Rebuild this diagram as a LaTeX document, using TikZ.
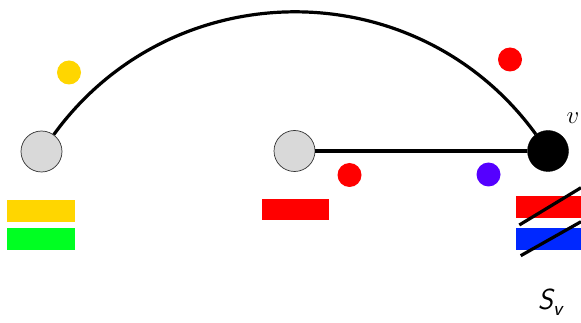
\documentclass[tikz,border=0pt]{standalone}
\usepackage{fontspec}
\begin{document}
\begin{tikzpicture}[x=1pt,y=-1pt,
  gnode/.style={circle,draw=black!80,line width=0.7pt,fill=black!15,minimum size=41pt,inner sep=0pt},
  bnode/.style={circle,draw=black,fill=black,minimum size=41pt,inner sep=0pt},
  dot/.style={circle,minimum size=24pt,inner sep=0pt},
  bar/.style={rectangle,minimum width=67.5pt,minimum height=21.5pt,inner sep=0pt},
  edge/.style={line width=3.2pt},
  slash/.style={line width=3.2pt}]
\useasboundingbox (0,0) rectangle (581,323);
\definecolor{cyel}{RGB}{255,214,0}
\definecolor{cgrn}{RGB}{0,255,34}
\definecolor{cred}{RGB}{255,0,0}
\definecolor{cblu}{RGB}{0,40,255}
\definecolor{cpur}{RGB}{85,0,255}
% vertices
\node[gnode] (a) at (41.5,151.5) {};
\node[gnode] (b) at (294.5,151) {};
\node[bnode] (c) at (548,151) {};
% edges
\draw[edge] (a) to[out=54,in=126,looseness=1.075] (c);
\draw[edge] (b) -- (c);
% dots
\node[dot,fill=cyel] (d1) at (69,72.5) {};
\node[dot,fill=cred] (d2) at (510,59.5) {};
\node[dot,fill=cred] (d3) at (349.5,175) {};
\node[dot,fill=cpur] (d4) at (488.5,174.5) {};
% bars
\node[bar,fill=cyel] (y1) at (41.2,210.8) {};
\node[bar,fill=cgrn] (g1) at (41.2,239.2) {};
\node[bar,fill=cred] (r1) at (295.3,209.7) {};
\node[bar,fill=cred] (r2) at (549.5,206.8) {};
\node[bar,fill=cblu] (b2) at (549.5,238.8) {};
% slashes
\coordinate (s1a) at (519.3,225);
\coordinate (s1b) at (581,187.7);
\coordinate (s2a) at (520.7,255.7);
\coordinate (s2b) at (581,221.7);
\draw[slash] (s1a) -- (s1b);
\draw[slash] (s2a) -- (s2b);
% labels
\node (lv) at (573,118.5) {\fontsize{32}{38}\selectfont$v$};
\node (ls) at (550,302) {\fontsize{29}{34}\selectfont\sffamily\slshape S\raisebox{-0.22em}{\fontsize{21}{24}\selectfont v}};
\end{tikzpicture}
\end{document}
